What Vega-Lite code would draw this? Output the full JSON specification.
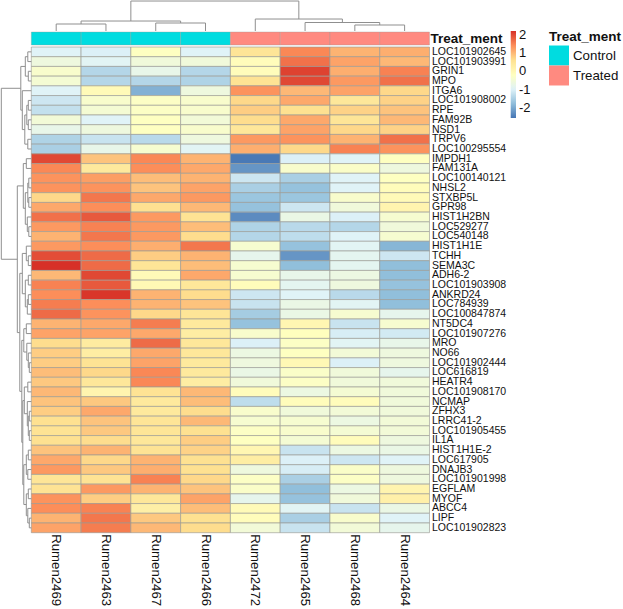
{"$schema":"https://vega.github.io/schema/vega-lite/v6.json","width":398.2,"height":485.7,"padding":{"left":31.3,"top":47,"right":193.5,"bottom":76.3},"autosize":{"type":"none"},"background":"white","config":{"view":{"stroke":null},"font":"Liberation Sans"},
"datasets":{"heat":[
{"gene":"LOC101902645","sample":"Rumen2469","value":-0.95},{"gene":"LOC101902645","sample":"Rumen2463","value":-1.0},{"gene":"LOC101902645","sample":"Rumen2467","value":-0.2},{"gene":"LOC101902645","sample":"Rumen2466","value":-0.95},{"gene":"LOC101902645","sample":"Rumen2472","value":0.5},{"gene":"LOC101902645","sample":"Rumen2465","value":1.45},{"gene":"LOC101902645","sample":"Rumen2468","value":1.05},{"gene":"LOC101902645","sample":"Rumen2464","value":1.1},
{"gene":"LOC101903991","sample":"Rumen2469","value":-0.6},{"gene":"LOC101903991","sample":"Rumen2463","value":-0.9},{"gene":"LOC101903991","sample":"Rumen2467","value":-0.55},{"gene":"LOC101903991","sample":"Rumen2466","value":-0.55},{"gene":"LOC101903991","sample":"Rumen2472","value":-0.1},{"gene":"LOC101903991","sample":"Rumen2465","value":1.65},{"gene":"LOC101903991","sample":"Rumen2468","value":1.2},{"gene":"LOC101903991","sample":"Rumen2464","value":1.0},
{"gene":"GRIN1","sample":"Rumen2469","value":-0.35},{"gene":"GRIN1","sample":"Rumen2463","value":-1.4},{"gene":"GRIN1","sample":"Rumen2467","value":-0.75},{"gene":"GRIN1","sample":"Rumen2466","value":-1.4},{"gene":"GRIN1","sample":"Rumen2472","value":-0.1},{"gene":"GRIN1","sample":"Rumen2465","value":2.05},{"gene":"GRIN1","sample":"Rumen2468","value":1.1},{"gene":"GRIN1","sample":"Rumen2464","value":1.5},
{"gene":"MPO","sample":"Rumen2469","value":-0.45},{"gene":"MPO","sample":"Rumen2463","value":-1.4},{"gene":"MPO","sample":"Rumen2467","value":-1.4},{"gene":"MPO","sample":"Rumen2466","value":-1.45},{"gene":"MPO","sample":"Rumen2472","value":0.55},{"gene":"MPO","sample":"Rumen2465","value":2.0},{"gene":"MPO","sample":"Rumen2468","value":1.3},{"gene":"MPO","sample":"Rumen2464","value":1.65},
{"gene":"ITGA6","sample":"Rumen2469","value":-0.95},{"gene":"ITGA6","sample":"Rumen2463","value":-0.05},{"gene":"ITGA6","sample":"Rumen2467","value":-1.9},{"gene":"ITGA6","sample":"Rumen2466","value":-0.6},{"gene":"ITGA6","sample":"Rumen2472","value":1.35},{"gene":"ITGA6","sample":"Rumen2465","value":1.0},{"gene":"ITGA6","sample":"Rumen2468","value":1.2},{"gene":"ITGA6","sample":"Rumen2464","value":0.7},
{"gene":"LOC101908002","sample":"Rumen2469","value":-1.15},{"gene":"LOC101908002","sample":"Rumen2463","value":-0.35},{"gene":"LOC101908002","sample":"Rumen2467","value":-0.25},{"gene":"LOC101908002","sample":"Rumen2466","value":-0.35},{"gene":"LOC101908002","sample":"Rumen2472","value":0.7},{"gene":"LOC101908002","sample":"Rumen2465","value":1.15},{"gene":"LOC101908002","sample":"Rumen2468","value":0.45},{"gene":"LOC101908002","sample":"Rumen2464","value":0.75},
{"gene":"RPE","sample":"Rumen2469","value":-1.25},{"gene":"RPE","sample":"Rumen2463","value":-0.45},{"gene":"RPE","sample":"Rumen2467","value":-0.25},{"gene":"RPE","sample":"Rumen2466","value":-0.35},{"gene":"RPE","sample":"Rumen2472","value":0.8},{"gene":"RPE","sample":"Rumen2465","value":0.6},{"gene":"RPE","sample":"Rumen2468","value":0.75},{"gene":"RPE","sample":"Rumen2464","value":0.9},
{"gene":"FAM92B","sample":"Rumen2469","value":-0.5},{"gene":"FAM92B","sample":"Rumen2463","value":-0.95},{"gene":"FAM92B","sample":"Rumen2467","value":-0.2},{"gene":"FAM92B","sample":"Rumen2466","value":-0.5},{"gene":"FAM92B","sample":"Rumen2472","value":0.65},{"gene":"FAM92B","sample":"Rumen2465","value":1.15},{"gene":"FAM92B","sample":"Rumen2468","value":0.5},{"gene":"FAM92B","sample":"Rumen2464","value":1.0},
{"gene":"NSD1","sample":"Rumen2469","value":-0.75},{"gene":"NSD1","sample":"Rumen2463","value":-0.6},{"gene":"NSD1","sample":"Rumen2467","value":-0.2},{"gene":"NSD1","sample":"Rumen2466","value":-0.35},{"gene":"NSD1","sample":"Rumen2472","value":0.45},{"gene":"NSD1","sample":"Rumen2465","value":1.2},{"gene":"NSD1","sample":"Rumen2468","value":0.7},{"gene":"NSD1","sample":"Rumen2464","value":0.75},
{"gene":"TRPV6","sample":"Rumen2469","value":-1.45},{"gene":"TRPV6","sample":"Rumen2463","value":-1.2},{"gene":"TRPV6","sample":"Rumen2467","value":-1.35},{"gene":"TRPV6","sample":"Rumen2466","value":-0.6},{"gene":"TRPV6","sample":"Rumen2472","value":1.3},{"gene":"TRPV6","sample":"Rumen2465","value":1.35},{"gene":"TRPV6","sample":"Rumen2468","value":1.05},{"gene":"TRPV6","sample":"Rumen2464","value":1.65},
{"gene":"LOC100295554","sample":"Rumen2469","value":-1.5},{"gene":"LOC100295554","sample":"Rumen2463","value":-0.75},{"gene":"LOC100295554","sample":"Rumen2467","value":-0.4},{"gene":"LOC100295554","sample":"Rumen2466","value":-0.9},{"gene":"LOC100295554","sample":"Rumen2472","value":1.1},{"gene":"LOC100295554","sample":"Rumen2465","value":0.7},{"gene":"LOC100295554","sample":"Rumen2468","value":1.5},{"gene":"LOC100295554","sample":"Rumen2464","value":1.35},
{"gene":"IMPDH1","sample":"Rumen2469","value":2.0},{"gene":"IMPDH1","sample":"Rumen2463","value":0.9},{"gene":"IMPDH1","sample":"Rumen2467","value":1.45},{"gene":"IMPDH1","sample":"Rumen2466","value":1.05},{"gene":"IMPDH1","sample":"Rumen2472","value":-2.5},{"gene":"IMPDH1","sample":"Rumen2465","value":-1.0},{"gene":"IMPDH1","sample":"Rumen2468","value":-0.95},{"gene":"IMPDH1","sample":"Rumen2464","value":-0.2},
{"gene":"FAM131A","sample":"Rumen2469","value":1.45},{"gene":"FAM131A","sample":"Rumen2463","value":0.4},{"gene":"FAM131A","sample":"Rumen2467","value":1.4},{"gene":"FAM131A","sample":"Rumen2466","value":1.15},{"gene":"FAM131A","sample":"Rumen2472","value":-2.2},{"gene":"FAM131A","sample":"Rumen2465","value":-0.35},{"gene":"FAM131A","sample":"Rumen2468","value":-0.3},{"gene":"FAM131A","sample":"Rumen2464","value":-0.6},
{"gene":"LOC100140121","sample":"Rumen2469","value":1.35},{"gene":"LOC100140121","sample":"Rumen2463","value":1.25},{"gene":"LOC100140121","sample":"Rumen2467","value":0.95},{"gene":"LOC100140121","sample":"Rumen2466","value":1.05},{"gene":"LOC100140121","sample":"Rumen2472","value":-1.15},{"gene":"LOC100140121","sample":"Rumen2465","value":-1.5},{"gene":"LOC100140121","sample":"Rumen2468","value":-0.95},{"gene":"LOC100140121","sample":"Rumen2464","value":-0.2},
{"gene":"NHSL2","sample":"Rumen2469","value":1.35},{"gene":"NHSL2","sample":"Rumen2463","value":1.35},{"gene":"NHSL2","sample":"Rumen2467","value":0.9},{"gene":"NHSL2","sample":"Rumen2466","value":1.2},{"gene":"NHSL2","sample":"Rumen2472","value":-1.5},{"gene":"NHSL2","sample":"Rumen2465","value":-1.7},{"gene":"NHSL2","sample":"Rumen2468","value":-0.95},{"gene":"NHSL2","sample":"Rumen2464","value":-0.1},
{"gene":"STXBP5L","sample":"Rumen2469","value":0.7},{"gene":"STXBP5L","sample":"Rumen2463","value":1.6},{"gene":"STXBP5L","sample":"Rumen2467","value":1.15},{"gene":"STXBP5L","sample":"Rumen2466","value":1.3},{"gene":"STXBP5L","sample":"Rumen2472","value":-1.65},{"gene":"STXBP5L","sample":"Rumen2465","value":-1.65},{"gene":"STXBP5L","sample":"Rumen2468","value":-0.35},{"gene":"STXBP5L","sample":"Rumen2464","value":-0.05},
{"gene":"GPR98","sample":"Rumen2469","value":1.15},{"gene":"GPR98","sample":"Rumen2463","value":1.4},{"gene":"GPR98","sample":"Rumen2467","value":0.6},{"gene":"GPR98","sample":"Rumen2466","value":1.0},{"gene":"GPR98","sample":"Rumen2472","value":-1.7},{"gene":"GPR98","sample":"Rumen2465","value":-1.15},{"gene":"GPR98","sample":"Rumen2468","value":-0.55},{"gene":"GPR98","sample":"Rumen2464","value":0.1},
{"gene":"HIST1H2BN","sample":"Rumen2469","value":1.65},{"gene":"HIST1H2BN","sample":"Rumen2463","value":1.85},{"gene":"HIST1H2BN","sample":"Rumen2467","value":1.3},{"gene":"HIST1H2BN","sample":"Rumen2466","value":0.55},{"gene":"HIST1H2BN","sample":"Rumen2472","value":-2.3},{"gene":"HIST1H2BN","sample":"Rumen2465","value":-0.7},{"gene":"HIST1H2BN","sample":"Rumen2468","value":-1.0},{"gene":"HIST1H2BN","sample":"Rumen2464","value":-0.4},
{"gene":"LOC529277","sample":"Rumen2469","value":1.3},{"gene":"LOC529277","sample":"Rumen2463","value":1.5},{"gene":"LOC529277","sample":"Rumen2467","value":1.3},{"gene":"LOC529277","sample":"Rumen2466","value":0.95},{"gene":"LOC529277","sample":"Rumen2472","value":-1.45},{"gene":"LOC529277","sample":"Rumen2465","value":-1.35},{"gene":"LOC529277","sample":"Rumen2468","value":-1.4},{"gene":"LOC529277","sample":"Rumen2464","value":-0.55},
{"gene":"LOC540148","sample":"Rumen2469","value":1.05},{"gene":"LOC540148","sample":"Rumen2463","value":1.6},{"gene":"LOC540148","sample":"Rumen2467","value":1.3},{"gene":"LOC540148","sample":"Rumen2466","value":0.65},{"gene":"LOC540148","sample":"Rumen2472","value":-1.4},{"gene":"LOC540148","sample":"Rumen2465","value":-1.3},{"gene":"LOC540148","sample":"Rumen2468","value":-0.95},{"gene":"LOC540148","sample":"Rumen2464","value":-0.4},
{"gene":"HIST1H1E","sample":"Rumen2469","value":1.3},{"gene":"HIST1H1E","sample":"Rumen2463","value":1.4},{"gene":"HIST1H1E","sample":"Rumen2467","value":1.1},{"gene":"HIST1H1E","sample":"Rumen2466","value":1.6},{"gene":"HIST1H1E","sample":"Rumen2472","value":-0.4},{"gene":"HIST1H1E","sample":"Rumen2465","value":-1.7},{"gene":"HIST1H1E","sample":"Rumen2468","value":-0.9},{"gene":"HIST1H1E","sample":"Rumen2464","value":-1.85},
{"gene":"TCHH","sample":"Rumen2469","value":1.95},{"gene":"TCHH","sample":"Rumen2463","value":1.7},{"gene":"TCHH","sample":"Rumen2467","value":0.8},{"gene":"TCHH","sample":"Rumen2466","value":1.05},{"gene":"TCHH","sample":"Rumen2472","value":-0.8},{"gene":"TCHH","sample":"Rumen2465","value":-2.2},{"gene":"TCHH","sample":"Rumen2468","value":-0.85},{"gene":"TCHH","sample":"Rumen2464","value":-1.15},
{"gene":"SEMA3C","sample":"Rumen2469","value":2.2},{"gene":"SEMA3C","sample":"Rumen2463","value":1.7},{"gene":"SEMA3C","sample":"Rumen2467","value":0.5},{"gene":"SEMA3C","sample":"Rumen2466","value":0.95},{"gene":"SEMA3C","sample":"Rumen2472","value":-0.4},{"gene":"SEMA3C","sample":"Rumen2465","value":-1.75},{"gene":"SEMA3C","sample":"Rumen2468","value":-0.85},{"gene":"SEMA3C","sample":"Rumen2464","value":-1.75},
{"gene":"ADH6-2","sample":"Rumen2469","value":1.0},{"gene":"ADH6-2","sample":"Rumen2463","value":2.0},{"gene":"ADH6-2","sample":"Rumen2467","value":-0.05},{"gene":"ADH6-2","sample":"Rumen2466","value":1.15},{"gene":"ADH6-2","sample":"Rumen2472","value":-0.4},{"gene":"ADH6-2","sample":"Rumen2465","value":-0.75},{"gene":"ADH6-2","sample":"Rumen2468","value":-0.65},{"gene":"ADH6-2","sample":"Rumen2464","value":-1.75},
{"gene":"LOC101903908","sample":"Rumen2469","value":1.5},{"gene":"LOC101903908","sample":"Rumen2463","value":1.85},{"gene":"LOC101903908","sample":"Rumen2467","value":0.0},{"gene":"LOC101903908","sample":"Rumen2466","value":0.45},{"gene":"LOC101903908","sample":"Rumen2472","value":-0.1},{"gene":"LOC101903908","sample":"Rumen2465","value":-0.85},{"gene":"LOC101903908","sample":"Rumen2468","value":-0.6},{"gene":"LOC101903908","sample":"Rumen2464","value":-1.7},
{"gene":"ANKRD24","sample":"Rumen2469","value":1.4},{"gene":"ANKRD24","sample":"Rumen2463","value":2.15},{"gene":"ANKRD24","sample":"Rumen2467","value":1.05},{"gene":"ANKRD24","sample":"Rumen2466","value":0.65},{"gene":"ANKRD24","sample":"Rumen2472","value":-1.15},{"gene":"ANKRD24","sample":"Rumen2465","value":-0.95},{"gene":"ANKRD24","sample":"Rumen2468","value":-1.35},{"gene":"ANKRD24","sample":"Rumen2464","value":-1.75},
{"gene":"LOC784939","sample":"Rumen2469","value":1.55},{"gene":"LOC784939","sample":"Rumen2463","value":1.4},{"gene":"LOC784939","sample":"Rumen2467","value":1.05},{"gene":"LOC784939","sample":"Rumen2466","value":0.9},{"gene":"LOC784939","sample":"Rumen2472","value":-1.2},{"gene":"LOC784939","sample":"Rumen2465","value":-0.7},{"gene":"LOC784939","sample":"Rumen2468","value":-0.9},{"gene":"LOC784939","sample":"Rumen2464","value":-1.75},
{"gene":"LOC100847874","sample":"Rumen2469","value":1.7},{"gene":"LOC100847874","sample":"Rumen2463","value":1.35},{"gene":"LOC100847874","sample":"Rumen2467","value":0.7},{"gene":"LOC100847874","sample":"Rumen2466","value":0.5},{"gene":"LOC100847874","sample":"Rumen2472","value":-1.55},{"gene":"LOC100847874","sample":"Rumen2465","value":-0.7},{"gene":"LOC100847874","sample":"Rumen2468","value":-0.4},{"gene":"LOC100847874","sample":"Rumen2464","value":-0.8},
{"gene":"NT5DC4","sample":"Rumen2469","value":1.05},{"gene":"NT5DC4","sample":"Rumen2463","value":1.15},{"gene":"NT5DC4","sample":"Rumen2467","value":1.55},{"gene":"NT5DC4","sample":"Rumen2466","value":0.4},{"gene":"NT5DC4","sample":"Rumen2472","value":-1.7},{"gene":"NT5DC4","sample":"Rumen2465","value":0.05},{"gene":"NT5DC4","sample":"Rumen2468","value":-1.2},{"gene":"NT5DC4","sample":"Rumen2464","value":-0.4},
{"gene":"LOC101907276","sample":"Rumen2469","value":1.2},{"gene":"LOC101907276","sample":"Rumen2463","value":1.2},{"gene":"LOC101907276","sample":"Rumen2467","value":1.15},{"gene":"LOC101907276","sample":"Rumen2466","value":0.3},{"gene":"LOC101907276","sample":"Rumen2472","value":-0.35},{"gene":"LOC101907276","sample":"Rumen2465","value":-0.15},{"gene":"LOC101907276","sample":"Rumen2468","value":-1.05},{"gene":"LOC101907276","sample":"Rumen2464","value":-1.1},
{"gene":"MRO","sample":"Rumen2469","value":0.65},{"gene":"MRO","sample":"Rumen2463","value":0.35},{"gene":"MRO","sample":"Rumen2467","value":1.7},{"gene":"MRO","sample":"Rumen2466","value":0.45},{"gene":"MRO","sample":"Rumen2472","value":-1.0},{"gene":"MRO","sample":"Rumen2465","value":-0.25},{"gene":"MRO","sample":"Rumen2468","value":-0.9},{"gene":"MRO","sample":"Rumen2464","value":-0.75},
{"gene":"NO66","sample":"Rumen2469","value":0.8},{"gene":"NO66","sample":"Rumen2463","value":0.3},{"gene":"NO66","sample":"Rumen2467","value":1.15},{"gene":"NO66","sample":"Rumen2466","value":0.45},{"gene":"NO66","sample":"Rumen2472","value":-0.65},{"gene":"NO66","sample":"Rumen2465","value":-0.2},{"gene":"NO66","sample":"Rumen2468","value":-0.5},{"gene":"NO66","sample":"Rumen2464","value":-0.6},
{"gene":"LOC101902444","sample":"Rumen2469","value":0.8},{"gene":"LOC101902444","sample":"Rumen2463","value":0.55},{"gene":"LOC101902444","sample":"Rumen2467","value":1.2},{"gene":"LOC101902444","sample":"Rumen2466","value":0.4},{"gene":"LOC101902444","sample":"Rumen2472","value":-0.6},{"gene":"LOC101902444","sample":"Rumen2465","value":0.0},{"gene":"LOC101902444","sample":"Rumen2468","value":-1.0},{"gene":"LOC101902444","sample":"Rumen2464","value":-0.6},
{"gene":"LOC616819","sample":"Rumen2469","value":0.95},{"gene":"LOC616819","sample":"Rumen2463","value":0.7},{"gene":"LOC616819","sample":"Rumen2467","value":1.45},{"gene":"LOC616819","sample":"Rumen2466","value":0.4},{"gene":"LOC616819","sample":"Rumen2472","value":-0.7},{"gene":"LOC616819","sample":"Rumen2465","value":-0.3},{"gene":"LOC616819","sample":"Rumen2468","value":-0.55},{"gene":"LOC616819","sample":"Rumen2464","value":-0.8},
{"gene":"HEATR4","sample":"Rumen2469","value":0.85},{"gene":"HEATR4","sample":"Rumen2463","value":0.45},{"gene":"HEATR4","sample":"Rumen2467","value":1.45},{"gene":"HEATR4","sample":"Rumen2466","value":0.3},{"gene":"HEATR4","sample":"Rumen2472","value":-0.55},{"gene":"HEATR4","sample":"Rumen2465","value":-0.25},{"gene":"HEATR4","sample":"Rumen2468","value":-0.55},{"gene":"HEATR4","sample":"Rumen2464","value":-0.55},
{"gene":"LOC101908170","sample":"Rumen2469","value":1.0},{"gene":"LOC101908170","sample":"Rumen2463","value":0.1},{"gene":"LOC101908170","sample":"Rumen2467","value":0.55},{"gene":"LOC101908170","sample":"Rumen2466","value":1.0},{"gene":"LOC101908170","sample":"Rumen2472","value":-0.1},{"gene":"LOC101908170","sample":"Rumen2465","value":-0.65},{"gene":"LOC101908170","sample":"Rumen2468","value":-0.45},{"gene":"LOC101908170","sample":"Rumen2464","value":-0.55},
{"gene":"NCMAP","sample":"Rumen2469","value":0.9},{"gene":"NCMAP","sample":"Rumen2463","value":0.85},{"gene":"NCMAP","sample":"Rumen2467","value":0.4},{"gene":"NCMAP","sample":"Rumen2466","value":0.95},{"gene":"NCMAP","sample":"Rumen2472","value":-1.3},{"gene":"NCMAP","sample":"Rumen2465","value":-0.1},{"gene":"NCMAP","sample":"Rumen2468","value":-0.1},{"gene":"NCMAP","sample":"Rumen2464","value":-0.55},
{"gene":"ZFHX3","sample":"Rumen2469","value":0.8},{"gene":"ZFHX3","sample":"Rumen2463","value":1.15},{"gene":"ZFHX3","sample":"Rumen2467","value":0.4},{"gene":"ZFHX3","sample":"Rumen2466","value":0.65},{"gene":"ZFHX3","sample":"Rumen2472","value":-0.35},{"gene":"ZFHX3","sample":"Rumen2465","value":-0.55},{"gene":"ZFHX3","sample":"Rumen2468","value":-0.5},{"gene":"ZFHX3","sample":"Rumen2464","value":-0.55},
{"gene":"LRRC41-2","sample":"Rumen2469","value":0.6},{"gene":"LRRC41-2","sample":"Rumen2463","value":0.9},{"gene":"LRRC41-2","sample":"Rumen2467","value":0.5},{"gene":"LRRC41-2","sample":"Rumen2466","value":1.0},{"gene":"LRRC41-2","sample":"Rumen2472","value":-0.4},{"gene":"LRRC41-2","sample":"Rumen2465","value":-0.4},{"gene":"LRRC41-2","sample":"Rumen2468","value":-0.65},{"gene":"LRRC41-2","sample":"Rumen2464","value":-0.5},
{"gene":"LOC101905455","sample":"Rumen2469","value":0.55},{"gene":"LOC101905455","sample":"Rumen2463","value":0.85},{"gene":"LOC101905455","sample":"Rumen2467","value":0.5},{"gene":"LOC101905455","sample":"Rumen2466","value":0.6},{"gene":"LOC101905455","sample":"Rumen2472","value":-0.25},{"gene":"LOC101905455","sample":"Rumen2465","value":-0.35},{"gene":"LOC101905455","sample":"Rumen2468","value":-0.45},{"gene":"LOC101905455","sample":"Rumen2464","value":-0.5},
{"gene":"IL1A","sample":"Rumen2469","value":0.6},{"gene":"IL1A","sample":"Rumen2463","value":0.65},{"gene":"IL1A","sample":"Rumen2467","value":0.45},{"gene":"IL1A","sample":"Rumen2466","value":0.8},{"gene":"IL1A","sample":"Rumen2472","value":-0.2},{"gene":"IL1A","sample":"Rumen2465","value":-0.45},{"gene":"IL1A","sample":"Rumen2468","value":-0.1},{"gene":"IL1A","sample":"Rumen2464","value":-0.6},
{"gene":"HIST1H1E-2","sample":"Rumen2469","value":0.9},{"gene":"HIST1H1E-2","sample":"Rumen2463","value":1.05},{"gene":"HIST1H1E-2","sample":"Rumen2467","value":0.55},{"gene":"HIST1H1E-2","sample":"Rumen2466","value":0.75},{"gene":"HIST1H1E-2","sample":"Rumen2472","value":0.05},{"gene":"HIST1H1E-2","sample":"Rumen2465","value":-1.2},{"gene":"HIST1H1E-2","sample":"Rumen2468","value":-0.65},{"gene":"HIST1H1E-2","sample":"Rumen2464","value":-0.7},
{"gene":"LOC617905","sample":"Rumen2469","value":1.15},{"gene":"LOC617905","sample":"Rumen2463","value":0.7},{"gene":"LOC617905","sample":"Rumen2467","value":1.05},{"gene":"LOC617905","sample":"Rumen2466","value":0.6},{"gene":"LOC617905","sample":"Rumen2472","value":0.3},{"gene":"LOC617905","sample":"Rumen2465","value":-1.0},{"gene":"LOC617905","sample":"Rumen2468","value":-1.15},{"gene":"LOC617905","sample":"Rumen2464","value":-0.95},
{"gene":"DNAJB3","sample":"Rumen2469","value":1.3},{"gene":"DNAJB3","sample":"Rumen2463","value":0.85},{"gene":"DNAJB3","sample":"Rumen2467","value":1.1},{"gene":"DNAJB3","sample":"Rumen2466","value":0.6},{"gene":"DNAJB3","sample":"Rumen2472","value":-0.6},{"gene":"DNAJB3","sample":"Rumen2465","value":-1.05},{"gene":"DNAJB3","sample":"Rumen2468","value":-0.3},{"gene":"DNAJB3","sample":"Rumen2464","value":-0.6},
{"gene":"LOC101901998","sample":"Rumen2469","value":0.5},{"gene":"LOC101901998","sample":"Rumen2463","value":0.55},{"gene":"LOC101901998","sample":"Rumen2467","value":1.5},{"gene":"LOC101901998","sample":"Rumen2466","value":0.7},{"gene":"LOC101901998","sample":"Rumen2472","value":-0.25},{"gene":"LOC101901998","sample":"Rumen2465","value":-1.5},{"gene":"LOC101901998","sample":"Rumen2468","value":-0.25},{"gene":"LOC101901998","sample":"Rumen2464","value":-0.6},
{"gene":"EGFLAM","sample":"Rumen2469","value":0.55},{"gene":"EGFLAM","sample":"Rumen2463","value":1.3},{"gene":"EGFLAM","sample":"Rumen2467","value":1.05},{"gene":"EGFLAM","sample":"Rumen2466","value":0.9},{"gene":"EGFLAM","sample":"Rumen2472","value":-0.3},{"gene":"EGFLAM","sample":"Rumen2465","value":-1.75},{"gene":"EGFLAM","sample":"Rumen2468","value":-0.65},{"gene":"EGFLAM","sample":"Rumen2464","value":0.1},
{"gene":"MYOF","sample":"Rumen2469","value":1.35},{"gene":"MYOF","sample":"Rumen2463","value":0.8},{"gene":"MYOF","sample":"Rumen2467","value":0.45},{"gene":"MYOF","sample":"Rumen2466","value":1.2},{"gene":"MYOF","sample":"Rumen2472","value":-0.8},{"gene":"MYOF","sample":"Rumen2465","value":-1.7},{"gene":"MYOF","sample":"Rumen2468","value":-0.55},{"gene":"MYOF","sample":"Rumen2464","value":0.2},
{"gene":"ABCC4","sample":"Rumen2469","value":1.4},{"gene":"ABCC4","sample":"Rumen2463","value":1.5},{"gene":"ABCC4","sample":"Rumen2467","value":0.25},{"gene":"ABCC4","sample":"Rumen2466","value":0.95},{"gene":"ABCC4","sample":"Rumen2472","value":-0.05},{"gene":"ABCC4","sample":"Rumen2465","value":-0.9},{"gene":"ABCC4","sample":"Rumen2468","value":-1.2},{"gene":"ABCC4","sample":"Rumen2464","value":-0.7},
{"gene":"LIPF","sample":"Rumen2469","value":1.05},{"gene":"LIPF","sample":"Rumen2463","value":1.6},{"gene":"LIPF","sample":"Rumen2467","value":0.85},{"gene":"LIPF","sample":"Rumen2466","value":0.6},{"gene":"LIPF","sample":"Rumen2472","value":-0.1},{"gene":"LIPF","sample":"Rumen2465","value":-1.5},{"gene":"LIPF","sample":"Rumen2468","value":-0.35},{"gene":"LIPF","sample":"Rumen2464","value":-0.95},
{"gene":"LOC101902823","sample":"Rumen2469","value":1.2},{"gene":"LOC101902823","sample":"Rumen2463","value":1.55},{"gene":"LOC101902823","sample":"Rumen2467","value":1.0},{"gene":"LOC101902823","sample":"Rumen2466","value":0.65},{"gene":"LOC101902823","sample":"Rumen2472","value":-0.5},{"gene":"LOC101902823","sample":"Rumen2465","value":-1.2},{"gene":"LOC101902823","sample":"Rumen2468","value":-0.5},{"gene":"LOC101902823","sample":"Rumen2464","value":-0.8}
],
"annotation":[{"sample":"Rumen2469","treatment":"Control"},{"sample":"Rumen2463","treatment":"Control"},{"sample":"Rumen2467","treatment":"Control"},{"sample":"Rumen2466","treatment":"Control"},{"sample":"Rumen2472","treatment":"Treated"},{"sample":"Rumen2465","treatment":"Treated"},{"sample":"Rumen2468","treatment":"Treated"},{"sample":"Rumen2464","treatment":"Treated"}],
"colTree":[{"a":0.5,"b":1.5,"ha":0,"hb":0,"h":7},{"a":2.5,"b":3.5,"ha":0,"hb":0,"h":8},{"a":1,"b":3,"ha":7,"hb":8,"h":10},{"a":6.5,"b":7.5,"ha":0,"hb":0,"h":6},{"a":5.5,"b":7,"ha":0,"hb":6,"h":8.5},{"a":4.5,"b":6.25,"ha":0,"hb":8.5,"h":12},{"a":2,"b":5.375,"ha":10,"hb":12,"h":30}],
"rowTree":[{"a":0.5,"b":1.5,"ha":0,"hb":0,"h":3.5},{"a":2.5,"b":3.5,"ha":0,"hb":0,"h":3},{"a":1,"b":3,"ha":3.5,"hb":3,"h":6},{"a":5.5,"b":6.5,"ha":0,"hb":0,"h":3},{"a":7.5,"b":8.5,"ha":0,"hb":0,"h":3},{"a":6,"b":8,"ha":3,"hb":3,"h":4.5},{"a":9.5,"b":10.5,"ha":0,"hb":0,"h":3.5},{"a":7,"b":10,"ha":4.5,"hb":3.5,"h":6.5},{"a":4.5,"b":8.5,"ha":0,"hb":6.5,"h":9},{"a":2,"b":6.5,"ha":6,"hb":9,"h":10.5},
{"a":11.5,"b":12.5,"ha":0,"hb":0,"h":5},{"a":13.5,"b":14.5,"ha":0,"hb":0,"h":2.5},{"a":15.5,"b":16.5,"ha":0,"hb":0,"h":2.5},{"a":14,"b":16,"ha":2.5,"hb":2.5,"h":3.5},{"a":18.5,"b":19.5,"ha":0,"hb":0,"h":2.5},{"a":17.5,"b":19,"ha":0,"hb":2.5,"h":4},{"a":15,"b":18.25,"ha":3.5,"hb":4,"h":6},{"a":12,"b":16.6,"ha":5,"hb":6,"h":8},
{"a":21.5,"b":22.5,"ha":0,"hb":0,"h":3},{"a":20.5,"b":22,"ha":0,"hb":3,"h":5},{"a":23.5,"b":24.5,"ha":0,"hb":0,"h":3},{"a":25.5,"b":26.5,"ha":0,"hb":0,"h":3},{"a":26,"b":27.5,"ha":3,"hb":0,"h":4},{"a":24,"b":26.75,"ha":3,"hb":4,"h":6},{"a":21.25,"b":25.4,"ha":5,"hb":6,"h":9},
{"a":28.5,"b":29.5,"ha":0,"hb":0,"h":5},{"a":32.5,"b":33.5,"ha":0,"hb":0,"h":2},{"a":31.5,"b":33,"ha":0,"hb":2,"h":3},{"a":30.5,"b":32.25,"ha":0,"hb":3,"h":4.5},{"a":29,"b":31.4,"ha":5,"hb":4.5,"h":7.5},
{"a":37.5,"b":38.5,"ha":0,"hb":0,"h":2},{"a":39.5,"b":40.5,"ha":0,"hb":0,"h":2},{"a":38,"b":40,"ha":2,"hb":2,"h":3},{"a":36.5,"b":39,"ha":0,"hb":3,"h":4},{"a":34.5,"b":35.5,"ha":0,"hb":0,"h":3.5},{"a":35,"b":37.75,"ha":3.5,"hb":4,"h":7},
{"a":41.5,"b":42.5,"ha":0,"hb":0,"h":3},{"a":43.5,"b":44.5,"ha":0,"hb":0,"h":3.5},{"a":42,"b":44,"ha":3,"hb":3.5,"h":5},{"a":45.5,"b":46.5,"ha":0,"hb":0,"h":3},{"a":48.5,"b":49.5,"ha":0,"hb":0,"h":2},{"a":47.5,"b":49,"ha":0,"hb":2,"h":3.5},{"a":46,"b":48.25,"ha":3,"hb":3.5,"h":5},{"a":43,"b":47.1,"ha":5,"hb":5,"h":7.5},
{"a":36.4,"b":45.05,"ha":7,"hb":7.5,"h":8.5},{"a":30.2,"b":40.7,"ha":7.5,"hb":8.5,"h":9.5},{"a":23.3,"b":35.45,"ha":9,"hb":9.5,"h":11.5},{"a":14.3,"b":29.4,"ha":8,"hb":11.5,"h":14},{"a":4.25,"b":21.85,"ha":10.5,"hb":14,"h":30}]},
"layer":[
{"data":{"name":"heat"},"mark":{"type":"rect","stroke":"#9a9a94","strokeWidth":0.8,"strokeOpacity":0.8},
"encoding":{"x":{"field":"sample","type":"nominal","sort":null,"scale":{"paddingInner":0,"paddingOuter":0},"axis":{"title":null,"orient":"bottom","labelAngle":90,"labelFontSize":13.2,"labelColor":"#111","labelPadding":1,"ticks":false,"domain":false,"grid":false,"labelFont":"Liberation Sans"}},
"y":{"field":"gene","type":"nominal","sort":null,"scale":{"paddingInner":0,"paddingOuter":0},"axis":{"title":null,"orient":"right","labelFontSize":10.5,"labelColor":"#111","labelPadding":2,"ticks":false,"domain":false,"grid":false,"labelOverlap":false,"labelLimit":0,"labelFont":"Liberation Sans"}},
"color":{"field":"value","type":"quantitative","scale":{"domain":[-2.54,-1.75,-0.96,-0.17,0.62,1.41,2.2],"range":["#4575B4","#91BFDB","#E0F3F8","#FFFFBF","#FEE090","#FC8D59","#D73027"],"interpolate":"rgb"},"legend":{"title":null,"orient":"none","legendX":479.4,"legendY":-16,"gradientLength":87,"gradientThickness":5.3,"values":[-2,-1,0,1,2],"labelExpr":"datum.value","labelFontSize":13,"labelColor":"#111","labelOffset":3,"gradientStrokeWidth":0,"labelFont":"Liberation Sans"}}}},
{"data":{"name":"annotation"},"mark":{"type":"rect","stroke":"#9a9a94","strokeWidth":0.6,"strokeOpacity":0.6},
"encoding":{"x":{"field":"sample","type":"nominal","sort":null,"scale":{"paddingInner":0,"paddingOuter":0},"axis":null},
"y":{"datum":-1,"type":"quantitative","scale":{"domain":[-502,-16],"nice":false,"zero":false},"axis":null},"y2":{"datum":-14},
"fill":{"field":"treatment","type":"nominal","scale":{"domain":["Control","Treated"],"range":["#00DCE0","#FF8A80"]},"legend":{"title":"Treat_ment","orient":"none","legendX":517.7,"legendY":-17,"symbolType":"square","symbolSize":400,"symbolStrokeWidth":0,"rowPadding":0,"titleFontSize":13.5,"titleFontWeight":"bold","titleColor":"#111","titlePadding":2,"labelFontSize":13.3,"labelColor":"#111","labelOffset":4,"titleFont":"Liberation Sans","labelFont":"Liberation Sans"}}}},
{"data":{"values":[{"label":"Treat_ment"}]},"mark":{"type":"text","align":"left","baseline":"middle","fontWeight":"bold","fontSize":13.5,"color":"#111","font":"Liberation Sans"},
"encoding":{"x":{"datum":8.02,"type":"quantitative","scale":{"domain":[0,8],"nice":false,"zero":false},"axis":null},"y":{"datum":-8,"type":"quantitative","scale":{"domain":[-502,-16],"nice":false,"zero":false},"axis":null},"text":{"field":"label"}}},
{"data":{"name":"colTree"},"layer":[
{"mark":{"type":"rule","color":"#8f8f8f","strokeWidth":1},"encoding":{"x":{"field":"a","type":"quantitative","scale":{"domain":[0,8],"nice":false,"zero":false},"axis":null},"x2":{"field":"b"},"y":{"field":"h","type":"quantitative","scale":{"domain":[-502,-16],"nice":false,"zero":false},"axis":null}}},
{"mark":{"type":"rule","color":"#8f8f8f","strokeWidth":1},"encoding":{"x":{"field":"a","type":"quantitative"},"y":{"field":"ha","type":"quantitative"},"y2":{"field":"h"}}},
{"mark":{"type":"rule","color":"#8f8f8f","strokeWidth":1},"encoding":{"x":{"field":"b","type":"quantitative"},"y":{"field":"hb","type":"quantitative"},"y2":{"field":"h"}}}]},
{"data":{"name":"rowTree"},"layer":[
{"mark":{"type":"rule","color":"#8f8f8f","strokeWidth":1},"encoding":{"x":{"field":"h","type":"quantitative","scale":{"domain":[0,-398.2],"nice":false,"zero":false},"axis":null},"y":{"field":"a","type":"quantitative","scale":{"domain":[0,50],"reverse":true,"nice":false,"zero":false},"axis":null},"y2":{"field":"b"}}},
{"mark":{"type":"rule","color":"#8f8f8f","strokeWidth":1},"encoding":{"x":{"field":"ha","type":"quantitative"},"x2":{"field":"h"},"y":{"field":"a","type":"quantitative"}}},
{"mark":{"type":"rule","color":"#8f8f8f","strokeWidth":1},"encoding":{"x":{"field":"hb","type":"quantitative"},"x2":{"field":"h"},"y":{"field":"b","type":"quantitative"}}}]}
],
"resolve":{"scale":{"x":"independent","y":"independent"}}}
